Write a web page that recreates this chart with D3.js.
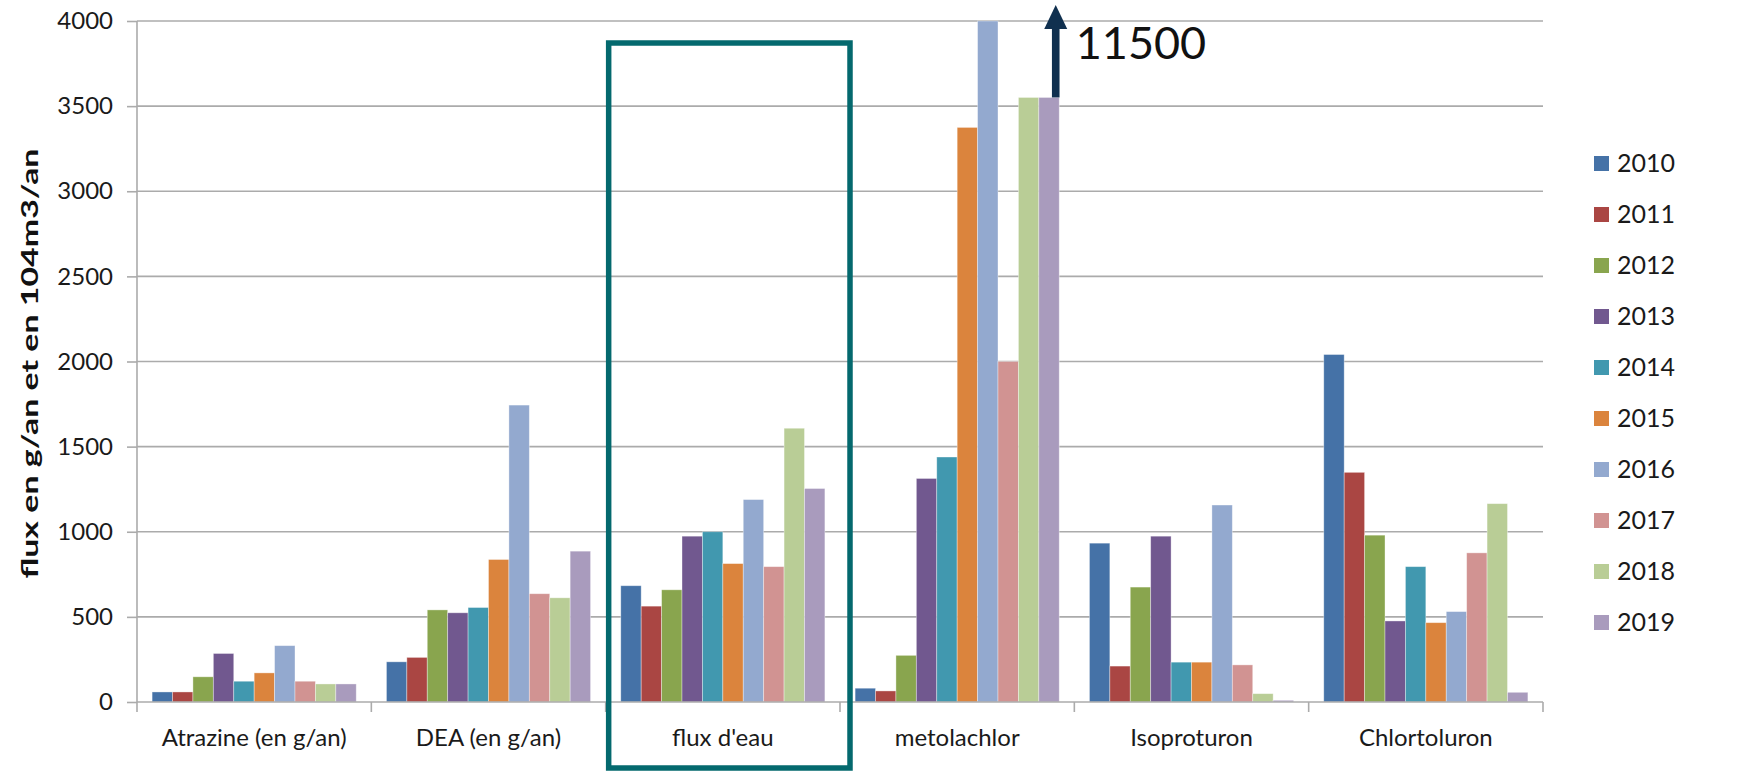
<!DOCTYPE html>
<html>
<head>
<meta charset="utf-8">
<script src="https://cdn.jsdelivr.net/npm/d3@7"></script>
<style>
  body { margin: 0; background: #fff; }
  svg { display: block; font-family: Lato, "Open Sans", sans-serif; }
</style>
</head>
<body>
<svg id="drawing_region"></svg>
<script>
// categories and series
const categories = ["Atrazine (en g/an)", "DEA (en g/an)", "flux d'eau", "metolachlor", "Isoproturon", "Chlortoluron"];
const years = ["2010", "2011", "2012", "2013", "2014", "2015", "2016", "2017", "2018", "2019"];
const colors = ["#4572A7", "#AA4643", "#89A54E", "#71588F", "#4198AF", "#DB843D", "#93A9CF", "#D19392", "#B9CD96", "#A99BBD"];

// one array per category, one value per year (2010..2019)
const atrazine     = [59, 59, 148, 285, 122, 171, 331, 122, 106, 106];
const dea          = [236, 262, 541, 524, 555, 837, 1744, 636, 612, 886];
const fluxEau      = [683, 563, 659, 974, 1000, 813, 1189, 795, 1608, 1254];
const metolachlor  = [81, 65, 274, 1313, 1439, 3375, 11500, 2000, 3551, 3551];
const isoproturon  = [933, 211, 675, 974, 234, 234, 1157, 218, 49, 10];
const chlortoluron = [2041, 1349, 980, 476, 795, 466, 531, 876, 1165, 57];

const yTicks = [0, 500, 1000, 1500, 2000, 2500, 3000, 3500, 4000];
const yTitle = "flux en g/an et en 104m3/an";
const bigLabel = "11500";

const seriesValues = [atrazine, dea, fluxEau, metolachlor, isoproturon, chlortoluron];

const config = {
    parent: '#drawing_region',
    width: 1747,
    height: 779,
    margin: {top: 21, right: 204, bottom: 77, left: 137}
};

const data = categories.map((c, i) => ({
    category: c,
    values: years.map((y, j) => ({ year: y, value: seriesValues[i][j] }))
}));

class GroupedBar {
    constructor(config, data) {
        this.config = config;
        this.data = data;
        this.init();
    }

    init() {
        let self = this;
        self.svg = d3.select(self.config.parent)
            .attr('width', self.config.width)
            .attr('height', self.config.height);
        self.chart = self.svg.append('g')
            .attr('transform', `translate(${self.config.margin.left}, ${self.config.margin.top})`);

        self.inner_width = self.config.width - self.config.margin.left - self.config.margin.right;
        self.inner_height = self.config.height - self.config.margin.top - self.config.margin.bottom;

        self.x0 = d3.scaleBand().domain(categories).range([0, self.inner_width]).padding(0);
        self.x1 = d3.scaleBand().domain(years).range([0, self.x0.bandwidth()])
            .paddingInner(0).paddingOuter(0.74);
        self.yscale = d3.scaleLinear().domain([0, 4000]).range([self.inner_height, 0]);
        self.color = d3.scaleOrdinal().domain(years).range(colors);
    }

    render() {
        let self = this;
        const ih = self.inner_height, iw = self.inner_width;
        const ymax = self.yscale.domain()[1];

        // gridlines
        self.chart.append('g')
            .selectAll('line').data(yTicks.slice(1)).join('line')
            .attr('x1', 0).attr('x2', iw)
            .attr('y1', d => self.yscale(d)).attr('y2', d => self.yscale(d))
            .attr('stroke', '#ababab').attr('stroke-width', 1.6);

        // y axis
        const yaxis = d3.axisLeft(self.yscale).tickValues(yTicks).tickSize(10).tickPadding(14)
            .tickFormat(d3.format('d'));
        const yg = self.chart.append('g').call(yaxis);
        yg.select('.domain').remove();
        yg.selectAll('.tick line').attr('stroke', '#ababab').attr('stroke-width', 1.6);
        yg.selectAll('.tick text').attr('font-size', 24).attr('fill', '#1a1a1a')
            .attr('font-family', 'Lato, sans-serif');
        self.chart.append('line')
            .attr('x1', 0).attr('x2', 0).attr('y1', 0).attr('y2', ih + 10)
            .attr('stroke', '#ababab').attr('stroke-width', 1.6);

        // bars
        const groups = self.chart.append('g')
            .selectAll('g').data(self.data).join('g')
            .attr('transform', d => `translate(${self.x0(d.category)},0)`);
        groups.selectAll('rect').data(d => d.values).join('rect')
            .attr('x', d => self.x1(d.year))
            .attr('width', self.x1.bandwidth())
            .attr('y', d => self.yscale(Math.min(d.value, ymax)))
            .attr('height', d => ih - self.yscale(Math.min(d.value, ymax)))
            .attr('fill', d => self.color(d.year))
            .attr('stroke', 'rgba(255,255,255,0.45)')
            .attr('stroke-width', 0.8);

        // x axis
        const xg = self.chart.append('g').attr('transform', `translate(0, ${ih})`);
        xg.append('line').attr('x1', 0).attr('x2', iw)
            .attr('stroke', '#ababab').attr('stroke-width', 1.6);
        xg.selectAll('line.sep').data(d3.range(1, categories.length + 1)).join('line')
            .attr('class', 'sep')
            .attr('x1', i => i * self.x0.step()).attr('x2', i => i * self.x0.step())
            .attr('y1', 0).attr('y2', 10)
            .attr('stroke', '#ababab').attr('stroke-width', 1.6);
        xg.selectAll('text').data(categories).join('text')
            .attr('x', d => self.x0(d) + self.x0.bandwidth() / 2)
            .attr('y', 44)
            .attr('text-anchor', 'middle')
            .attr('font-size', 24).attr('fill', '#1a1a1a')
            .text(d => d);

        // y title
        self.svg.append('text')
            .attr('transform', `translate(38, ${self.config.margin.top + ih / 2 + 2}) rotate(-90)`)
            .attr('text-anchor', 'middle')
            .attr('font-size', 22).attr('font-weight', 'bold').attr('fill', '#111')
            .attr('textLength', 430).attr('lengthAdjust', 'spacingAndGlyphs')
            .text(yTitle);

        // highlight box around flux d'eau
        const fx = self.x0("flux d'eau");
        self.chart.append('rect')
            .attr('x', fx + 3).attr('y', 22)
            .attr('width', self.x0.bandwidth() + 7)
            .attr('height', 725)
            .attr('fill', 'none')
            .attr('stroke', '#04696e').attr('stroke-width', 5.5);

        // arrow for clipped metolachlor value
        const mx = self.x0('metolachlor') + self.x1('2019') + self.x1.bandwidth() - 3.5;
        const ytop = self.yscale(Math.min(metolachlor[9], ymax));
        const arrow = self.chart.append('g').attr('fill', '#10304f');
        arrow.append('rect')
            .attr('x', mx - 3.8).attr('y', 6).attr('width', 7.6).attr('height', ytop - 6);
        arrow.append('path')
            .attr('d', `M${mx},-16 L${mx + 11.5},8 L${mx - 11.5},8 Z`);
        self.chart.append('text')
            .attr('x', mx + 20).attr('y', 38)
            .attr('font-size', 45).attr('fill', '#111')
            .text(bigLabel);

        // legend
        const legend = self.svg.append('g').attr('transform', 'translate(1594, 163)')
            .selectAll('g').data(years).join('g')
            .attr('transform', (d, i) => `translate(0, ${i * 51})`);
        legend.append('rect')
            .attr('x', 0).attr('y', -7).attr('width', 15).attr('height', 15)
            .attr('fill', d => self.color(d));
        legend.append('text')
            .attr('x', 23).attr('y', 0).attr('dy', '0.36em')
            .attr('font-size', 25).attr('fill', '#1a1a1a')
            .text(d => d);
    }
}

const chart = new GroupedBar(config, data);
chart.render();
</script>
</body>
</html>
